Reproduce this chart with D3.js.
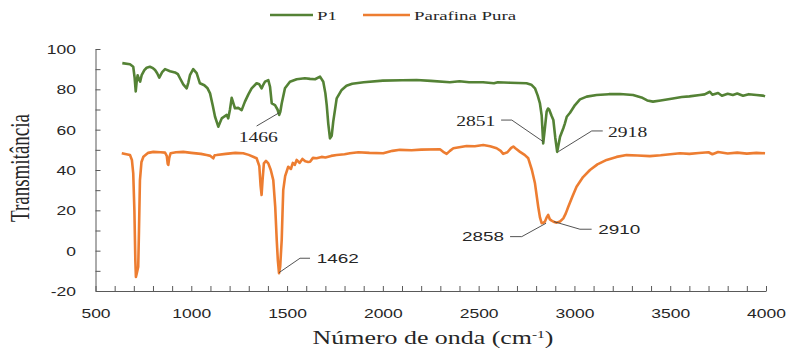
<!DOCTYPE html>
<html>
<head>
<meta charset="utf-8">
<script src="https://cdn.jsdelivr.net/npm/d3@7"></script>
<style>
  body { margin: 0; background: #fff; }
  .axis path, .axis line { stroke: #595959; stroke-width: 1; }
  .axis text { font-family: "Liberation Sans", sans-serif; font-size: 12.5px; fill: #262626; }
  .line1 { fill: none; stroke: #548235; stroke-width: 2.6; stroke-linejoin: round; }
  .line2 { fill: none; stroke: #ED7D31; stroke-width: 2.6; stroke-linejoin: round; }
</style>
</head>
<body>
<div id="chart"></div>
<script>
// P1 (green)
var p1Wave = [640, 680, 697, 704, 710, 715, 720, 727, 733, 741, 755, 767, 784, 800, 811, 822, 833, 848, 863, 889,
  915, 930, 941, 958, 976, 985, 993, 1010, 1028, 1045, 1068, 1085, 1098, 1112, 1124, 1141, 1150, 1159, 1172, 1185,
  1193, 1202, 1211, 1220, 1228, 1245, 1263, 1280, 1298, 1315, 1341, 1355, 1367, 1377, 1385, 1402, 1411, 1420, 1437, 1450,
  1459, 1465, 1472, 1489, 1515, 1550, 1593, 1620, 1646, 1672, 1689, 1700, 1707, 1715, 1724, 1733, 1741, 1759, 1785, 1810,
  1840, 1900, 2000, 2100, 2176, 2250, 2350, 2400, 2450, 2523, 2580, 2600, 2664, 2750, 2775, 2794, 2808, 2820, 2829, 2837,
  2845, 2855, 2862, 2868, 2880, 2890, 2900, 2910, 2918, 2925, 2942, 2950, 2960, 2977, 3003, 3029, 3064, 3116, 3180, 3238,
  3306, 3350, 3380, 3410, 3450, 3514, 3560, 3600, 3655, 3680, 3707, 3720, 3750, 3770, 3800, 3827, 3850, 3880, 3910, 3950,
  3983, 3995];
var p1Trans = [93, 92.4, 91.2, 86, 79, 84, 87, 85, 83.8, 87, 89.5, 90.7, 91.2, 90.5, 89.6, 88, 85.8, 88.5, 90, 89,
  88.4, 87.5, 85.5, 82.5, 80.5, 83.5, 87, 90, 88, 83, 82, 80.5, 78, 72, 66.4, 61.5, 63.5, 65.6, 66.5, 67.3,
  65.6, 70, 75.8, 73, 70.6, 70.8, 69.7, 73.9, 77.5, 80.5, 83, 82.5, 80.5, 82.5, 83.8, 84.6, 81.3, 73, 72.2, 70,
  67.3, 69, 73, 80.5, 83.8, 85, 85.5, 85.2, 85, 86.3, 83.8, 78, 72.2, 63, 55.7, 57, 64, 75.5, 79.7, 81.8,
  82.8, 83.5, 84.3, 84.5, 84.6, 84.2, 83.5, 84, 83.5, 83.5, 83, 83.5, 83.3, 83, 82.3, 80.5, 77, 73, 67, 53.2,
  60, 69, 70.5, 70, 67, 64.8, 56, 49, 53, 56.5, 60.7, 63, 66.4, 68.4, 72.2, 75, 76.4, 77.2, 77.6, 77.7,
  77.2, 76, 74.5, 73.9, 74.5, 75.5, 76.2, 76.5, 77.2, 77.5, 78.8, 77.3, 78.2, 76.8, 77.8, 77.2, 77.9, 76.8, 77.6, 77.2,
  76.9, 76.5];

// Parafina Pura (orange)
var parWave = [637, 680, 690, 697, 703, 708, 711, 716, 723, 727, 732, 740, 750, 775, 802, 840, 863, 872, 877, 880,
  885, 892, 920, 958, 1000, 1050, 1080, 1100, 1115, 1122, 1132, 1180, 1230, 1271, 1300, 1341, 1355, 1362, 1367, 1372,
  1379, 1390, 1402, 1415, 1428, 1438, 1446, 1452, 1458, 1464, 1472, 1476, 1480, 1490, 1506, 1520, 1530, 1540, 1550, 1565,
  1580, 1595, 1610, 1620, 1635, 1654, 1680, 1700, 1730, 1759, 1800, 1828, 1872, 1930, 2002, 2050, 2089, 2150, 2200, 2298,
  2315, 2333, 2350, 2368, 2437, 2480, 2524, 2560, 2594, 2615, 2628, 2650, 2670, 2681, 2695, 2716, 2740, 2759, 2778, 2794,
  2811, 2820, 2829, 2838, 2846, 2855, 2863, 2872, 2881, 2895, 2907, 2925, 2942, 2955, 2968, 2990, 3011, 3045, 3081, 3120,
  3168, 3220, 3272, 3330, 3394, 3450, 3500, 3551, 3600, 3650, 3700, 3720, 3750, 3800, 3850, 3900, 3950, 3995];
var parTrans = [48.3, 47.4, 45, 38.3, 20, -5, -13, -11, -8, 10, 35, 44, 46.6, 48.5, 49, 48.8, 48.6, 47, 43, 42.5,
  46, 48.3, 48.8, 49, 48.5, 48, 47.4, 47, 45.8, 47.3, 47.4, 48, 48.5, 48.3, 47.5, 45.8, 42, 32, 27.6, 35,
  43.3, 44.5, 43.3, 40, 35, 22, 5.3, -5, -11.2, -8, 5.3, 18, 30, 37, 41.6, 40.5, 43.5, 42.5, 45, 43.5,
  45.5, 44.3, 44, 44.1, 46, 45.8, 46.5, 46.2, 47, 47.4, 47.8, 48.3, 48.8, 48.5, 48.3, 49.5, 50, 49.8, 50.1, 50.3,
  49, 48, 49.5, 50.8, 51.9, 51.8, 52.4, 51.8, 50.8, 49.5, 48, 48.8, 51, 51.6, 50.5, 49, 47.5, 45.8, 40, 33.4,
  21.8, 16.5, 13.6, 13.8, 14.4, 16.5, 17.7, 15.5, 14.9, 14.2, 13.9, 14.5, 16, 18.5, 21.8, 27, 31.7, 36.5, 40, 42.8,
  45, 46.5, 47.4, 47.2, 46.9, 47.3, 47.8, 48.3, 48, 48.4, 48.8, 47.8, 48.9, 48.2, 48.6, 48.1, 48.5, 48.3];

var xTickLabels = [500, 1000, 1500, 2000, 2500, 3000, 3500, 4000];
var yTickLabels = [-20, 0, 20, 40, 60, 80, 100];

// peak labels: text, wavenumber and transmittance of the marked point
var peakLabels = ["1466", "2851", "2918", "1462", "2858", "2910"];
var peakWave = [1459, 2838, 2916, 1458, 2852, 2893];
var peakTrans = [68.4, 54.0, 49.1, -10.9, 13.6, 14.4];

function init() {
    var w = 788;
    var h = 353;
    var sx = 1.4; // picture text is stretched sideways

    var xScale = d3.scaleLinear().domain([500, 4000]).range([95.5, 766]);
    var yScale = d3.scaleLinear().domain([-20, 100]).range([291, 49]);

    var svg = d3.select("#chart")
                .append("svg")
                .attr("width", w)
                .attr("height", h);

    var p1 = p1Wave.map(function(d, i) { return { x: d, y: p1Trans[i] }; });
    var par = parWave.map(function(d, i) { return { x: d, y: parTrans[i] }; });

    var line = d3.line()
                 .x(function(d) { return xScale(d.x); })
                 .y(function(d) { return yScale(d.y); });

    //axes
    var xTicks = d3.range(500, 4001, 100);
    var xAxis = d3.axisBottom(xScale)
                  .tickValues(xTicks)
                  .tickSize(-5)
                  .tickSizeOuter(0)
                  .tickFormat(function(d) { return xTickLabels.indexOf(d) >= 0 ? d : ""; });

    var yTicks = d3.range(-20, 101, 10);
    var yAxis = d3.axisLeft(yScale)
                  .tickValues(yTicks)
                  .tickSize(-5)
                  .tickSizeOuter(0)
                  .tickFormat(function(d) { return yTickLabels.indexOf(d) >= 0 ? d : ""; });

    var gx = svg.append("g")
        .attr("class", "axis")
        .attr("transform", "translate(0,291)")
        .call(xAxis);
    gx.selectAll(".tick text")
        .attr("y", 0).attr("dy", "0.36em")
        .attr("transform", "translate(0,22) scale(" + sx + ",1)");

    var gy = svg.append("g")
        .attr("class", "axis")
        .attr("transform", "translate(95.5,0)")
        .call(yAxis);
    gy.selectAll(".tick text")
        .attr("x", 0).attr("dy", "0.36em")
        .attr("transform", "translate(-19.5,0) scale(" + sx + ",1)");

    //lines
    svg.append("path").datum(par).attr("class", "line2").attr("d", line);
    svg.append("path").datum(p1).attr("class", "line1").attr("d", line);

    //peak annotations: elbow, end of leader, text offset, anchor, font
    var geo = [
        { e: [-22.6, 13.3], h: [-22.6, 13.3], t: [-21, 24.5], a: "middle", f: "serif" },
        { e: [-31.6, -21.7], h: [-42.3, -21.7], t: [-48, -21], a: "end", f: "serif" },
        { e: [33.4, -20.7], h: [44.4, -20.7], t: [49.7, -20], a: "start", f: "serif" },
        { e: [21, -14.4], h: [31, -14.4], t: [37.7, -14.4], a: "start", f: "sans" },
        { e: [-24.3, 13.4], h: [-36, 13.4], t: [-42, 13.4], a: "end", f: "sans" },
        { e: [26, 7.6], h: [37.7, 7.6], t: [44.3, 7.6], a: "start", f: "sans" }
    ];
    peakLabels.forEach(function(lab, i) {
        var px = xScale(peakWave[i]), py = yScale(peakTrans[i]), g = geo[i];
        svg.append("polyline")
            .attr("points", [[px, py], [px + g.e[0], py + g.e[1]], [px + g.h[0], py + g.h[1]]].join(" "))
            .attr("fill", "none").attr("stroke", "#404040").attr("stroke-width", 0.9);
        svg.append("text")
            .attr("transform", "translate(" + (px + g.t[0]) + "," + (py + g.t[1]) + ") scale(" + sx + ",1)")
            .attr("dy", "0.35em")
            .attr("text-anchor", g.a)
            .style("font-family", g.f == "serif" ? "'Liberation Serif', serif" : "'Liberation Sans', sans-serif")
            .style("font-size", g.f == "serif" ? "14px" : "13.5px")
            .style("fill", "#262626")
            .text(lab);
    });

    //axis titles
    var xt = svg.append("text")
        .attr("transform", "translate(433,344) scale(" + sx + ",1)")
        .attr("text-anchor", "middle")
        .style("font-family", "'Liberation Serif', serif")
        .style("font-size", "18.5px")
        .style("fill", "#262626");
    xt.append("tspan").text("Número de onda (cm");
    xt.append("tspan").attr("dy", -6).style("font-size", "11px").text("-1");
    xt.append("tspan").attr("dy", 6).text(")");

    svg.append("text")
        .attr("transform", "translate(29,168) scale(" + sx + ",1) rotate(-90)")
        .attr("text-anchor", "middle")
        .style("font-family", "'Liberation Serif', serif")
        .style("font-size", "19px")
        .style("fill", "#262626")
        .text("Transmitância");

    //legend
    var legend = [
        { name: "P1", cls: "line1", x0: 270, x1: 313 },
        { name: "Parafina Pura", cls: "line2", x0: 363, x1: 410 }
    ];
    legend.forEach(function(d) {
        svg.append("line").attr("class", d.cls)
            .attr("x1", d.x0).attr("x2", d.x1).attr("y1", 15).attr("y2", 15);
        svg.append("text")
            .attr("transform", "translate(" + (d.x1 + 4) + ",15) scale(" + sx + ",1)")
            .attr("dy", "0.34em")
            .style("font-family", "'Liberation Serif', serif")
            .style("font-size", "13.5px")
            .style("fill", "#262626")
            .text(d.name);
    });
}
window.onload = init;
</script>
</body>
</html>
